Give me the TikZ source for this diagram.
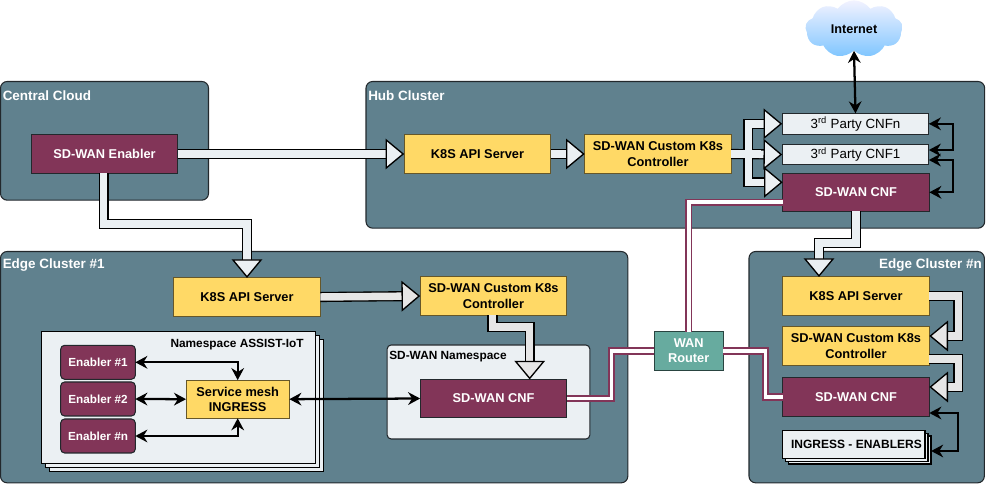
\documentclass[tikz,border=0pt]{standalone}
\usepackage{fontspec}
\setmainfont{Liberation Sans}
\usepackage{xcolor}
\usepackage{tikz}
\usetikzlibrary{shadows}
\usetikzlibrary{arrows.meta,shapes.symbols}
\usetikzlibrary{calc}

\definecolor{slate}{HTML}{60818E}
\definecolor{maroon}{HTML}{823558}
\definecolor{amber}{HTML}{FFD966}
\definecolor{mist}{HTML}{EBF0F3}
\definecolor{ash}{HTML}{E6E6E6}
\definecolor{jade}{HTML}{67AB9F}
\definecolor{ink}{HTML}{22282C}

\tikzset{
  cluster/.style={draw=ink, fill=slate, line width=.8pt, rounded corners=5pt, anchor=north west, inner sep=0pt, outer sep=0pt},
  clusterlabel/.style={text=white, font=\bfseries\fontsize{10.1}{11}\selectfont, inner sep=0pt},
  boxbase/.style={draw=ink, line width=.8pt, align=center, inner sep=0pt, outer sep=0pt, font=\bfseries\fontsize{9.6}{11.4}\selectfont},
  yellowbox/.style={boxbase, fill=amber, draw=black!60!amber, minimum width=110pt, minimum height=28.6pt},
  maroonbox/.style={boxbase, fill=maroon, text=white, minimum width=110pt, minimum height=28.6pt},
  partybox/.style={boxbase, fill=mist, font=\fontsize{10}{11}\selectfont, minimum width=110pt, minimum height=15.6pt},
  enablerbox/.style={boxbase, fill=maroon, text=white, rounded corners=3pt, minimum width=56pt, minimum height=25.5pt, font=\bfseries\fontsize{8.8}{11}\selectfont},
  fatarrow/.style={draw=black, line width=1pt, double=#1, double distance=5.6pt,
    -{Triangle[length=14pt,width=23pt,fill=#1,color=black,line width=1pt]}},
  blackarrow/.style={black, line width=1.7pt, {Stealth[length=9pt,width=9.5pt]}-{Stealth[length=9pt,width=9.5pt]}},
  wanlink/.style={draw=maroon, line width=1.4pt, double=white, double distance=2.8pt}
}

\begin{document}
\begin{tikzpicture}[x=0.75pt,y=-0.75pt]
  \useasboundingbox (0,0) rectangle (986,484);

  % clusters
  \node[cluster, minimum width=156pt, minimum height=89pt] (central) at (0.5,81.5) {};
  \node[cluster, minimum width=464pt, minimum height=110pt] (hub) at (366,81.5) {};
  \node[cluster, minimum width=470.5pt, minimum height=173.5pt] (edgeone) at (0.5,251.5) {};
  \node[cluster, minimum width=176.5pt, minimum height=173.5pt] (edgen) at (749,251.5) {};

  \node[clusterlabel, anchor=west] (centrallabel) at (2.5,95.5) {Central Cloud};
  \node[clusterlabel, anchor=west] (hublabel) at (368,95.5) {Hub Cluster};
  \node[clusterlabel, anchor=west] (edgeonelabel) at (2.5,265.5) {Edge Cluster \#1};
  \node[clusterlabel, anchor=east] (edgenlabel) at (982,265.5) {Edge Cluster \#n};

  % central and hub
  \node[maroonbox] (enabler) at (104.5,154) {SD-WAN Enabler};
  \node[yellowbox] (hubapi) at (477.5,154) {K8S API Server};
  \node[yellowbox] (hubctrl) at (658,154) {SD-WAN Custom K8s\\Controller};
  \node[partybox] (cnfn) at (855.5,123.8) {3\textsuperscript{rd} Party CNFn};
  \node[partybox] (cnfone) at (855.5,154.5) {3\textsuperscript{rd} Party CNF1};
  \node[maroonbox] (hubcnf) at (856,192.3) {SD-WAN CNF};
  \node[cloud, cloud puffs=9, cloud puff arc=110, aspect=1.7, minimum width=73pt, minimum height=43pt, inner sep=0pt,
        top color=blue!5!white, bottom color=blue!45!cyan!50!white, font=\bfseries\fontsize{9.5}{11}\selectfont] (internet) at (854,29) {Internet};

  % edge cluster 1
  \node[yellowbox] (oneapi) at (247,297) {K8S API Server};
  \node[yellowbox] (onectrl) at (493.5,296) {SD-WAN Custom K8s\\Controller};
  \node[draw=ink, fill=mist, line width=.8pt, rounded corners=3pt, minimum width=152pt, minimum height=70.5pt, inner sep=0pt] (sdwanns) at (488.5,392) {};
  \node[anchor=west, inner sep=0pt, font=\bfseries\fontsize{8.9}{11}\selectfont] (sdwannslabel) at (389,357) {SD-WAN Namespace};
  \node[maroonbox] (onecnf) at (493.5,398.5) {SD-WAN CNF};
  \node[draw=black, fill=mist, line width=1pt, minimum width=205.5pt, minimum height=98.7pt, inner sep=0pt,
        double copy shadow={shadow xshift=3pt, shadow yshift=-3pt}] (assist) at (178.2,397.5) {};
  \node[anchor=east, inner sep=0pt, font=\bfseries\fontsize{8.9}{11}\selectfont] (assistlabel) at (304,345) {Namespace ASSIST-IoT};
  \foreach \i/\y in {1/362.3,2/399,n/436}{
    \node[enablerbox] (enabler\i) at (98,\y) {Enabler \#\i};
  }
  \node[yellowbox, minimum width=77.5pt] (mesh) at (237.7,399.2) {Service mesh\\INGRESS};

  % edge cluster n
  \node[yellowbox] (napi) at (856,296) {K8S API Server};
  \node[yellowbox] (nctrl) at (856,346) {SD-WAN Custom K8s\\Controller};
  \node[maroonbox] (ncnf) at (856,397) {SD-WAN CNF};
  \node[boxbase, draw=black, fill=mist, line width=1pt, minimum width=107pt, minimum height=21pt,
        font=\bfseries\fontsize{9}{11}\selectfont,
        double copy shadow={shadow xshift=2.2pt, shadow yshift=-2.2pt}] (ingress) at (853.8,444.3) {\hspace*{4pt}INGRESS - ENABLERS};

  \node[boxbase, fill=jade, text=white, draw=black!60!jade, minimum width=52pt, minimum height=28.6pt] (router) at (688.7,351) {WAN\\Router};

  % wan links
  \draw[wanlink] ($(hubcnf.west)+(0,10)$) -| (router.north);
  \draw[wanlink] (router.west) -- ++(-42.5,0) |- (onecnf.east);
  \draw[wanlink] (router.east) -- ++(42,0) |- (ncnf.west);

  % fat arrows
  \draw[fatarrow=mist] (enabler.east) -- (hubapi.west);
  \draw[fatarrow=mist] ($(enabler.south)+(-.8,0)$) -- ++(0,51) -| (oneapi.north);
  \draw[fatarrow=mist] (hubapi.east) -- (hubctrl.west);
  \draw[fatarrow=mist] (hubctrl.east) -- ++(17,0) |- (cnfn.west);
  \draw[fatarrow=mist] (hubctrl.east) -- ++(17,0) |- ($(hubcnf.west)+(0,-10)$);
  \draw[fatarrow=mist] (hubctrl.east) -- (cnfone.west);
  \draw[draw=mist, line width=5.6pt] (hubctrl.east) -- ++(30,0);
  \draw[draw=mist, line width=5.6pt] ($(hubctrl.east)+(17,-30)$) -- ($(hubctrl.east)+(17,28)$);
  \draw[fatarrow=mist] (hubcnf.south) -- ++(0,31.5) -| (napi.north -| 819,0);

  \draw[fatarrow=ash] (oneapi.east) -- (onectrl.west);
  \draw[fatarrow=ash] ($(onectrl.south)+(-1,0)$) -- ++(0,12) -| (onecnf.north -| 529.7,0);
  \draw[fatarrow=ash] (napi.east) -- ++(29,0) |- ($(nctrl.east)+(0,-10)$);
  \draw[fatarrow=ash] ($(nctrl.east)+(0,13)$) -- ++(29,0) |- ($(ncnf.east)+(0,-10)$);

  % black arrows
  \draw[blackarrow] (internet.south) -- (cnfn.north);
  \draw[blackarrow] (cnfn.east) -- ++(24,0) |- ($(cnfone.east)+(0,-4.5)$);
  \draw[blackarrow] ($(cnfone.east)+(0,5.5)$) -- ++(24,0) |- (hubcnf.east);
  \draw[blackarrow] (enabler1.east) -| (mesh.north);
  \draw[blackarrow] (enabler2.east) -- (mesh.west);
  \draw[blackarrow] (enablern.east) -| (mesh.south);
  \draw[blackarrow] (mesh.east) -- (onecnf.west);
  \draw[blackarrow] ($(ncnf.east)+(0,16)$) -- ++(29,0) |- ($(ingress.east)+(6,6.7)$);
\end{tikzpicture}
\end{document}
